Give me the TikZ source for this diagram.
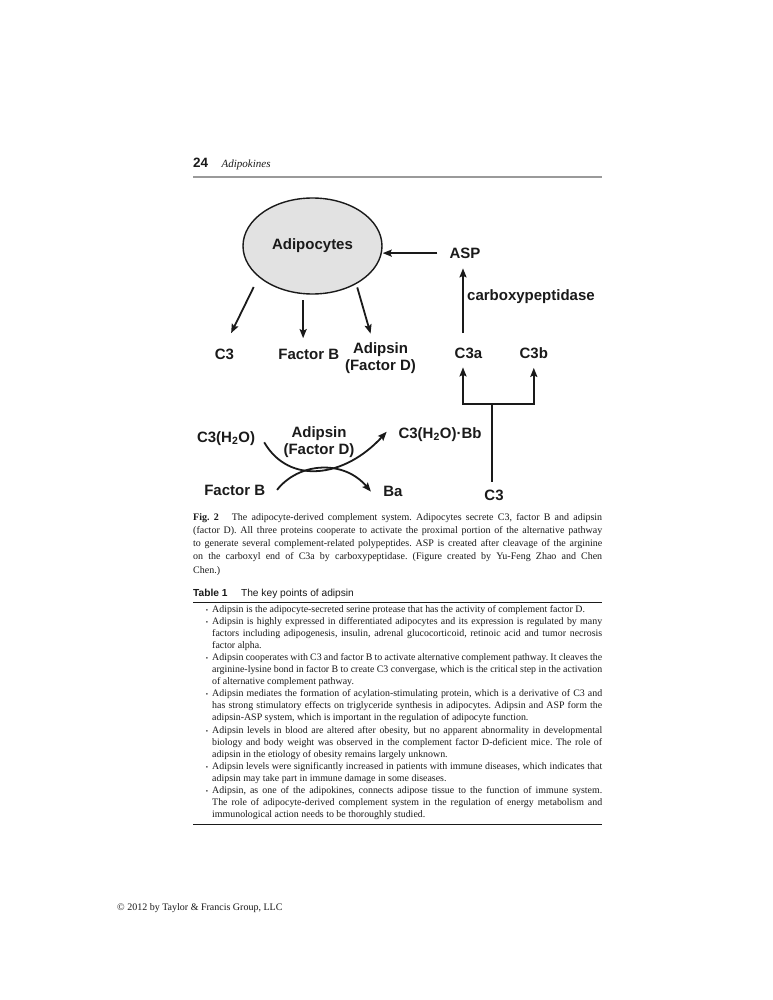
\documentclass[tikz,border=0pt]{standalone}
\usepackage{fontspec}
\setmainfont{Liberation Serif}
\setsansfont{Liberation Sans}
\usetikzlibrary{arrows.meta,shapes.geometric}
\definecolor{ink}{HTML}{1A1A1A}
\definecolor{cellgray}{HTML}{E2E2E2}
\definecolor{headrule}{HTML}{9A9A9A}
\newcommand{\fullline}[2]{{\spaceskip=0pt\xspaceskip=0pt\makebox[#1][s]{#2}}}
\newcommand{\bul}{\llap{{\fontsize{6.5}{6.5}\selectfont\textbullet}\hspace{4pt}}}
\frenchspacing

\begin{document}
\begin{tikzpicture}[x=1pt, y=-1pt,
  lbl/.style={font=\sffamily\bfseries\fontsize{15}{17.5}\selectfont, inner sep=2pt, text=ink},
  arr/.style={draw=ink, line width=1.8pt, -{Stealth[length=9pt,width=7pt,inset=1.5pt]}},
  stem/.style={draw=ink, line width=1.8pt},
  prose/.style={font=\fontsize{10}{13.3}\selectfont, inner sep=0pt, align=flush left, anchor=base west, text=ink},
  tabrule/.style={draw=ink, line width=0.9pt}
]
\useasboundingbox[fill=white] (0,0) rectangle (772,1000);

% running head
\node[inner sep=0pt, anchor=base west, text=ink] (head) at (193,168)
  {{\sffamily\bfseries\fontsize{13.5}{14}\selectfont 24}\hspace{13.5pt}{\itshape\fontsize{11}{12}\selectfont Adipokines}};
\draw[draw=headrule, line width=1.2pt] (193,177) -- (602,177);

% complement system
\node[lbl, ellipse, draw=ink, line width=1.4pt, fill=cellgray, minimum width=139pt,
  minimum height=96pt, inner sep=0pt] (cell) at (312.5,246) {Adipocytes};
\node[lbl, anchor=base] (asp) at (465,258.3) {ASP};
\node[lbl, anchor=base west] (enzyme) at (465,300) {carboxypeptidase};
\node[lbl, anchor=base] (c3) at (224.5,359.3) {C3};
\node[lbl, anchor=base] (fb) at (308.8,359.3) {Factor B};
\node[lbl, align=center] (adf) at (380.5,358.3) {Adipsin\\(Factor D)};
\node[lbl, anchor=base] (c3a) at (468.5,358) {C3a};
\node[lbl, anchor=base] (c3b) at (533.8,358.5) {C3b};
\node[lbl, anchor=base] (c3w) at (226,442) {C3(H\textsubscript{2}O)};
\node[lbl, align=center] (adf2) at (319,442.3) {Adipsin\\(Factor D)};
\node[lbl, anchor=base west] (c3bb) at (396.3,438) {C3(H\textsubscript{2}O)·Bb};
\node[lbl, anchor=base] (fb2) at (234.7,495) {Factor B};
\node[lbl, anchor=base] (ba) at (393,496.7) {Ba};
\node[lbl, anchor=base] (c3c) at (494,500) {C3};
\coordinate (fork) at (492,404);

% secretion
\draw[arr, shorten <=11pt, shorten >=15pt] (cell.210) -- (c3.north);
\draw[arr, shorten <=6pt, shorten >=8.6pt] (cell.259) -- (cell.259 |- fb.north);
\draw[arr, shorten <=3.5pt, shorten >=7pt] (cell.319) -- ([xshift=-8pt]adf.north);
\draw[arr, shorten <=10pt] (asp.west) -- (asp.west -| cell.east);
\draw[arr, shorten <=12.3pt, shorten >=7.7pt] ([xshift=-5.5pt]c3a.north) -- ([xshift=-2pt]asp.south);

% cleavage of C3
\draw[stem, shorten >=5.3pt] (fork) -- (fork |- c3c.north);
\draw[arr, shorten >=7pt] (fork) -| ([xshift=-5.5pt]c3a.south);
\draw[arr, shorten >=7pt] (fork) -| (c3b.south);

% convertase
\draw[arr] ([shift={(7,-5)}]c3w.south east) .. controls +(25,43) and +(-42,46) .. ([shift={(-9.6,-2.4)}]c3bb.west);
\draw[arr] ([xshift=9.7pt]fb2.east) .. controls +(22,-28) and +(-27,-32) .. ([xshift=-10.3pt]ba.west);

% caption
\node[prose, text width=409pt] (caption) at (193,520) {%
\fullline{409pt}{\textbf{Fig. 2}\hspace{13pt}The adipocyte-derived complement system. Adipocytes secrete C3, factor B and adipsin}\\
\fullline{409pt}{(factor D). All three proteins cooperate to activate the proximal portion of the alternative pathway}\\
\fullline{409pt}{to generate several complement-related polypeptides. ASP is created after cleavage of the arginine}\\
\fullline{409pt}{on the carboxyl end of C3a by carboxypeptidase. (Figure created by Yu-Feng Zhao and Chen}\\
Chen.)};

% table
\node[inner sep=0pt, anchor=base west, text=ink, font=\sffamily\fontsize{10.2}{12}\selectfont] (tabtitle)
  at (193,596) {\textbf{Table 1}\hspace{13.5pt}The key points of adipsin};
\draw[tabrule] (193,602) -- (602,602);
\node[prose, font=\fontsize{9.9}{12.1}\selectfont, text width=390pt] (points) at (212,612) {%
\bul Adipsin is the adipocyte-secreted serine protease that has the activity of complement factor D.\\
\fullline{390pt}{\bul Adipsin is highly expressed in differentiated adipocytes and its expression is regulated by many}\\
\fullline{390pt}{factors including adipogenesis, insulin, adrenal glucocorticoid, retinoic acid and tumor necrosis}\\
factor alpha.\\
\fullline{390pt}{\bul Adipsin cooperates with C3 and factor B to activate alternative complement pathway. It cleaves the}\\
\fullline{390pt}{arginine-lysine bond in factor B to create C3 convergase, which is the critical step in the activation}\\
of alternative complement pathway.\\
\fullline{390pt}{\bul Adipsin mediates the formation of acylation-stimulating protein, which is a derivative of C3 and}\\
\fullline{390pt}{has strong stimulatory effects on triglyceride synthesis in adipocytes. Adipsin and ASP form the}\\
adipsin-ASP system, which is important in the regulation of adipocyte function.\\
\fullline{390pt}{\bul Adipsin levels in blood are altered after obesity, but no apparent abnormality in developmental}\\
\fullline{390pt}{biology and body weight was observed in the complement factor D-deficient mice. The role of}\\
adipsin in the etiology of obesity remains largely unknown.\\
\fullline{390pt}{\bul Adipsin levels were significantly increased in patients with immune diseases, which indicates that}\\
adipsin may take part in immune damage in some diseases.\\
\fullline{390pt}{\bul Adipsin, as one of the adipokines, connects adipose tissue to the function of immune system.}\\
\fullline{390pt}{The role of adipocyte-derived complement system in the regulation of energy metabolism and}\\
immunological action needs to be thoroughly studied.};
\draw[tabrule] (193,824) -- (602,824);

% footer
\node[inner sep=0pt, anchor=base west, text=ink, font=\fontsize{10}{12}\selectfont] (footer)
  at (117,910) {\textcopyright{} 2012 by Taylor \& Francis Group, LLC};
\end{tikzpicture}
\end{document}
